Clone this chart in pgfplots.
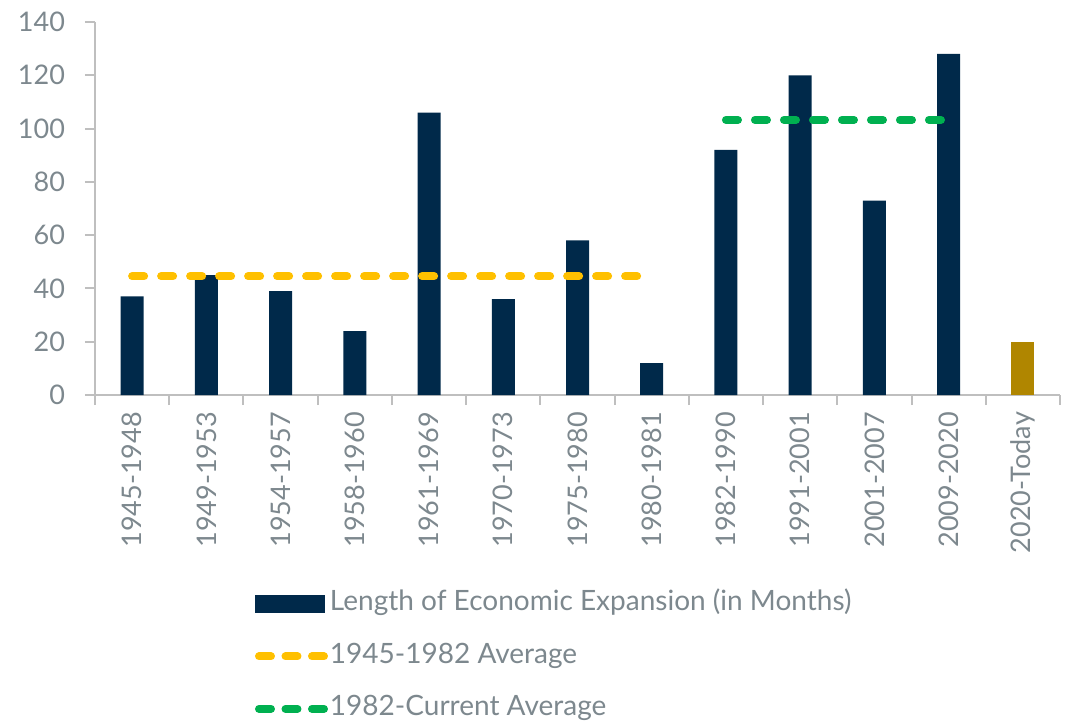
\documentclass[border=0pt]{standalone}
\usepackage{fontspec}
\setmainfont{Lato}
\usepackage{pgfplots}
\pgfplotsset{compat=1.18}
\definecolor{navy}{RGB}{0,41,74}
\definecolor{goldc}{RGB}{176,134,0}
\definecolor{yellowc}{RGB}{255,192,0}
\definecolor{greenc}{RGB}{0,176,80}
\definecolor{textgrey}{RGB}{125,136,142}
\definecolor{axisgrey}{RGB}{191,191,191}
\begin{document}
\begin{tikzpicture}
\useasboundingbox (-47.5pt,-162.5pt) rectangle (488pt,197.5pt);
\begin{axis}[
  at={(0pt,0pt)}, anchor=south west,
  scale only axis, width=482.5pt, height=186.5pt,
  xmin=-0.5, xmax=12.5, ymin=0, ymax=140,
  ytick={0,20,...,140},
  xtick={-0.5,0.5,...,12.5},
  x tick label as interval,
  xticklabels={1945-1948,1949-1953,1954-1957,1958-1960,1961-1969,1970-1973,1975-1980,1980-1981,1982-1990,1991-2001,2001-2007,2009-2020,2020-Today,{}},
  axis x line*=bottom, axis y line*=left,
  axis line style={-, draw=axisgrey, line width=1pt},
  tick style={draw=axisgrey, line width=1pt},
  tick align=outside,
  major tick length=5pt,
  /pgf/number format/assume math mode=true,
  ticklabel style={font=\fontsize{13.5}{16}\selectfont, text=textgrey},
  y tick label style={xshift=-6.5pt},
  x tick label style={rotate=90, anchor=east},
  legend style={at={(axis description cs:0.1658,-0.5254)}, anchor=north west, draw=none, fill=none,
    inner sep=0pt, outer sep=0pt, font=\fontsize{14}{16}\selectfont, text=textgrey,
    row sep=13.2pt, column sep=1pt,
    nodes={inner sep=0pt, text height=10pt, text depth=3pt}},
  legend cell align=left,
]
\addplot[ybar, bar width=11.5pt, bar shift=0pt, fill=navy, draw=none,
  legend image code/.code={\fill[navy] (0pt,-4.5pt) rectangle (35pt,4.5pt);}]
  coordinates {(0,37) (1,45) (2,39) (3,24) (4,106) (5,36) (6,58) (7,12) (8,92) (9,120) (10,73) (11,128)};
\addlegendentry{Length of Economic Expansion (in Months)}
\addplot[ybar, bar width=11.5pt, bar shift=0pt, fill=goldc, draw=none, forget plot]
  coordinates {(12,20)};
\addplot[yellowc, line width=4pt, line cap=round, dash pattern=on 6pt off 8.5pt,
  legend image code/.code={\draw[yellowc, line width=4pt, line cap=round, dash pattern=on 6pt off 7.25pt] (2pt,0pt) -- (34.5pt,0pt);}]
  coordinates {(0,44.6) (7,44.6)};
\addlegendentry{1945-1982 Average}
\addplot[greenc, line width=4pt, line cap=round, dash pattern=on 6pt off 8.5pt,
  legend image code/.code={\draw[greenc, line width=4pt, line cap=round, dash pattern=on 6pt off 7.25pt] (2pt,0pt) -- (34.5pt,0pt);}]
  coordinates {(8,103.25) (11,103.25)};
\addlegendentry{1982-Current Average}
\end{axis}
\end{tikzpicture}
\end{document}
